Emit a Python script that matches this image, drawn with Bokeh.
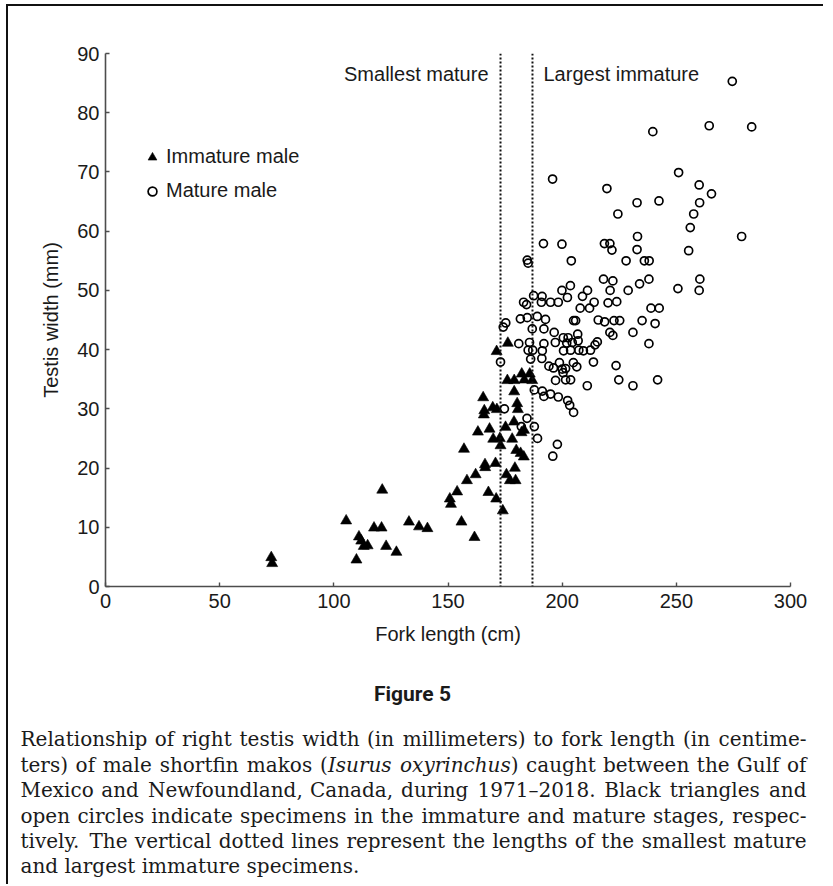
from bokeh.plotting import figure
from bokeh.layouts import column
from bokeh.models import Span, Label, Legend, LegendItem, FixedTicker
from bokeh.core.properties import value
from bokeh.embed import file_html
from bokeh.resources import INLINE

# ---------------- data ----------------
# Immature males: fork length (cm) and right testis width (mm)
imm_fl = [72.6, 73.0, 105.4, 109.9, 111.0, 112.0, 113.1, 114.8, 117.6, 120.9,
          121.2, 122.9, 127.4, 132.9, 137.3, 141.0, 150.8, 151.3, 154.0, 155.9,
          157.0, 158.3, 161.6, 162.1, 163.1, 165.4, 165.9, 165.7, 166.2, 166.3,
          167.7, 168.2, 169.6, 169.8, 170.8, 171.1, 171.4, 171.3, 172.7, 173.0,
          174.0, 175.2, 175.6, 176.2, 176.0, 177.1, 178.1, 178.9, 179.0, 179.0,
          179.3, 179.6, 179.9, 180.3, 180.6, 181.8, 182.3, 182.2, 183.3, 183.2,
          183.4, 185.8, 186.9]
imm_tw = [4.9, 3.9, 11.1, 4.5, 8.4, 7.7, 6.8, 6.9, 9.9, 9.9,
          16.3, 6.8, 5.8, 10.9, 10.1, 9.8, 14.8, 13.9, 16.0, 10.9,
          23.2, 17.9, 8.3, 18.9, 26.1, 31.9, 29.7, 29.0, 20.6, 20.1,
          15.9, 26.6, 30.2, 24.9, 20.8, 14.8, 29.9, 39.7, 25.0, 23.8,
          12.8, 26.9, 18.9, 41.1, 34.8, 17.9, 24.9, 27.8, 32.9, 34.8,
          20.0, 17.9, 23.0, 30.9, 29.9, 22.5, 35.9, 26.0, 26.4, 21.9,
          34.9, 35.9, 34.8]

# Mature males
mat_fl = [274.5, 264.4, 283.0, 239.7, 195.8, 251.0, 219.6, 260.0, 265.4, 232.8,
          242.4, 260.2, 224.4, 257.6, 256.1, 278.6, 233.0, 232.8, 255.4, 191.8,
          199.9, 218.5, 220.9, 221.8, 184.7, 185.1, 204.0, 228.0, 236.0, 238.1,
          260.3, 260.0, 250.7, 218.1, 222.2, 221.0, 228.9, 233.9, 238.0, 199.9,
          203.6, 202.3, 208.9, 211.1, 207.9, 212.0, 214.0, 220.1, 223.9, 238.9,
          242.5, 235.0, 240.7, 187.5, 191.2, 183.1, 184.4, 190.9, 194.9, 198.3,
          181.7, 184.7, 189.1, 192.7, 205.0, 205.9, 215.8, 218.6, 222.7, 225.2,
          174.2, 175.3, 186.9, 192.0, 196.5, 200.5, 202.6, 202.0, 206.8, 207.0,
          220.9, 222.2, 231.0, 215.4, 214.4, 181.0, 185.7, 185.1, 187.1, 192.0,
          191.3, 191.1, 197.0, 204.4, 200.6, 203.7, 207.3, 209.3, 212.4, 238.0,
          186.2, 173.0, 194.2, 196.2, 198.8, 200.0, 201.5, 204.9, 206.4, 213.7,
          223.6, 200.4, 197.1, 201.5, 203.7, 224.8, 241.8, 211.0, 231.0, 187.8,
          191.3, 192.0, 194.9, 198.3, 202.4, 203.3, 205.0, 174.7, 184.6, 182.1,
          187.8, 189.2, 197.9, 195.9]
mat_tw = [85.3, 77.8, 77.6, 76.8, 68.8, 69.9, 67.2, 67.8, 66.3, 64.8,
          65.1, 64.8, 62.9, 62.9, 60.6, 59.1, 59.1, 56.9, 56.7, 57.9,
          57.8, 57.9, 57.9, 56.8, 55.1, 54.6, 55.0, 55.0, 55.0, 55.0,
          51.9, 50.0, 50.3, 51.9, 51.6, 50.0, 50.0, 51.1, 51.9, 50.0,
          50.8, 48.8, 49.0, 50.0, 47.0, 47.0, 48.0, 47.9, 48.1, 47.0,
          47.0, 44.9, 44.4, 49.1, 49.0, 48.0, 47.6, 48.0, 48.0, 48.0,
          45.2, 45.4, 45.6, 45.1, 44.9, 44.9, 45.0, 44.7, 44.9, 44.9,
          43.8, 44.5, 43.5, 43.5, 42.9, 42.0, 42.0, 41.1, 42.6, 41.5,
          42.9, 42.4, 42.9, 41.3, 40.8, 41.0, 41.2, 39.9, 39.9, 41.0,
          39.8, 38.5, 41.2, 41.2, 39.8, 39.9, 39.9, 39.8, 39.9, 41.0,
          38.4, 37.9, 37.2, 36.9, 37.8, 36.7, 36.8, 37.8, 37.1, 37.9,
          37.3, 36.1, 34.8, 34.9, 34.9, 34.9, 34.9, 33.9, 33.9, 33.2,
          33.0, 32.1, 32.5, 32.0, 31.4, 30.6, 29.4, 30.0, 28.4, 27.0,
          27.0, 25.0, 24.0, 22.0]

SMALLEST_MATURE = 173.0   # cm
LARGEST_IMMATURE = 187.0  # cm

x_ticks = [0, 50, 100, 150, 200, 250, 300]
y_ticks = [0, 10, 20, 30, 40, 50, 60, 70, 80, 90]

legend_labels = ["Immature male", "Mature male"]
marker_labels = ["Smallest mature", "Largest immature"]
figure_title = "Figure 5"

# caption lines; *...* marks italic text
caption_lines = [
    "Relationship of right testis width (in millimeters) to fork length (in centime-",
    "ters) of male shortfin makos (*Isurus* *oxyrinchus*) caught between the Gulf of",
    "Mexico and Newfoundland, Canada, during 1971–2018. Black triangles and",
    "open circles indicate specimens in the immature and mature stages, respec-",
    "tively. The vertical dotted lines represent the lengths of the smallest mature",
    "and largest immature specimens.",
]

# ---------------- styling ----------------
SANS = "Liberation Sans"
SERIF = "DejaVu Serif"
INK = "#1a1a1a"
AXIS = "#4d4d4d"
FS = "20px"
CAP_FS = 20.0
W = 815

p = figure(width=W, height=649, x_range=(0, 300), y_range=(0, 90),
           output_backend="svg", toolbar_location=None,
           min_border_left=97, min_border_right=33,
           min_border_top=47, min_border_bottom=69,
           x_axis_label="Fork length (cm)", y_axis_label="Testis width (mm)")
p.frame_align = False
p.outline_line_color = None
p.grid.visible = False
p.background_fill_color = "white"
p.border_fill_color = "white"

p.xaxis.ticker = FixedTicker(ticks=x_ticks)
p.yaxis.ticker = FixedTicker(ticks=y_ticks)
for ax in (p.xaxis[0], p.yaxis[0]):
    ax.axis_line_color = AXIS
    ax.axis_line_width = 1.6
    ax.major_tick_line_color = AXIS
    ax.major_tick_line_width = 1.4
    ax.major_tick_in = 4
    ax.major_tick_out = 0
    ax.minor_tick_line_color = None
    ax.major_label_text_font = SANS
    ax.major_label_text_font_size = FS
    ax.major_label_text_color = INK
    ax.axis_label_text_font = SANS
    ax.axis_label_text_font_size = FS
    ax.axis_label_text_font_style = "normal"
    ax.axis_label_text_color = INK
p.xaxis.major_label_standoff = 7
p.xaxis.axis_label_standoff = 12
p.yaxis.major_label_standoff = 6
p.yaxis.axis_label_standoff = 12

for loc in (SMALLEST_MATURE, LARGEST_IMMATURE):
    p.add_layout(Span(location=loc, dimension="height", line_color="#111111",
                      line_width=2, line_dash="2 2"))

r_imm = p.scatter(imm_fl, imm_tw, marker="triangle", size=11,
                  fill_color="black", line_color="black", line_width=0.6)
r_mat = p.scatter(mat_fl, mat_tw, marker="circle", size=8,
                  fill_color=None, line_color="black", line_width=1.7)

legend = Legend(items=[LegendItem(label=legend_labels[0], renderers=[r_imm]),
                       LegendItem(label=legend_labels[1], renderers=[r_mat])],
                location=(36, 384), glyph_width=22, glyph_height=22,
                label_height=22, label_standoff=3, spacing=11,
                padding=0, margin=0, border_line_color=None,
                background_fill_alpha=0, label_text_font=SANS,
                label_text_font_size=FS, label_text_color=INK)
p.add_layout(legend)

p.add_layout(Label(x=SMALLEST_MATURE, y=86.6, x_offset=-12, text=marker_labels[0],
                   text_align="right", text_baseline="middle", text_font=SANS,
                   text_font_size=FS, text_color=INK))
p.add_layout(Label(x=LARGEST_IMMATURE, y=86.6, x_offset=11, text=marker_labels[1],
                   text_align="left", text_baseline="middle", text_font=SANS,
                   text_font_size=FS, text_color=INK))

# ---------------- caption panel (pixel coordinates, y downwards) ----------------
CAP_H = 229
cap = figure(width=W, height=CAP_H, x_range=(0, W), y_range=(CAP_H, 0),
             output_backend="svg", toolbar_location=None, min_border=0,
             x_axis_type=None, y_axis_type=None)
cap.frame_align = False
cap.outline_line_color = None
cap.grid.visible = False

cap.text(x=[404], y=[38], text=[figure_title], text_align="center",
         text_baseline="middle", text_font=value("Roboto"), text_font_style="bold",
         text_font_size="21px", text_color=INK)

CW = {' ': .318, 'a': .596, 'b': .640, 'c': .553, 'd': .640, 'e': .593, 'f': .372,
      'g': .640, 'h': .646, 'i': .321, 'j': .318, 'k': .606, 'l': .321, 'm': .963,
      'n': .646, 'o': .602, 'p': .640, 'q': .640, 'r': .478, 's': .516, 't': .401,
      'u': .646, 'v': .569, 'w': .832, 'x': .569, 'y': .569, 'z': .529, '(': .390,
      ')': .390, ',': .318, '.': .318, '-': .360, '–': .5, 'R': .717, 'M': .949,
      'N': .796, 'C': .716, 'B': .718, 'T': .672, 'I': .418, 'G': .775}


def est(s):
    return CAP_FS * sum(CW.get(c, .636 if c.isdigit() else .6) for c in s)


def segments(word):
    segs, italic, buf = [], False, ""
    for c in word:
        if c == "*":
            if buf:
                segs.append((buf, italic))
            buf, italic = "", not italic
        else:
            buf += c
    if buf:
        segs.append((buf, italic))
    return segs


groups = {}


def put(text, x, y, align, italic):
    g = groups.setdefault((align, italic), {"x": [], "y": [], "t": []})
    g["x"].append(x)
    g["y"].append(y)
    g["t"].append(text)


CAP_L, CAP_R = 12, 798
cap_y = [83, 109, 134, 160, 185, 210]
for li, line in enumerate(caption_lines):
    y = cap_y[li]
    if li == len(caption_lines) - 1:
        put(line, CAP_L, y, "left", False)
        continue
    words = [segments(w) for w in line.split(" ")]
    widths = [sum(est(t) for t, _ in w) for w in words]
    gap = (CAP_R - CAP_L - sum(widths)) / (len(words) - 1)
    half = (len(words) + 1) // 2
    x = CAP_L
    for w, wd in zip(words[:half], widths[:half]):
        xx = x
        for t, it in w:
            put(t, xx, y, "left", it)
            xx += est(t)
        x += wd + gap
    x = CAP_R
    for w, wd in zip(reversed(words[half:]), reversed(widths[half:])):
        xx = x
        for t, it in reversed(w):
            put(t, xx, y, "right", it)
            xx -= est(t)
        x -= wd + gap

for (align, italic), g in groups.items():
    cap.text(x=g["x"], y=g["y"], text=g["t"], text_align=align,
             text_baseline="middle", text_font=value(SERIF),
             text_font_style="italic" if italic else "normal",
             text_font_size=f"{CAP_FS}px", text_color=INK)

layout = column(p, cap, spacing=0,
                styles={"margin-left": "6px", "margin-top": "4px",
                        "border-left": "2px solid #111111",
                        "border-top": "2px solid #111111"})

open("out.html", "w").write(file_html(layout, INLINE))
